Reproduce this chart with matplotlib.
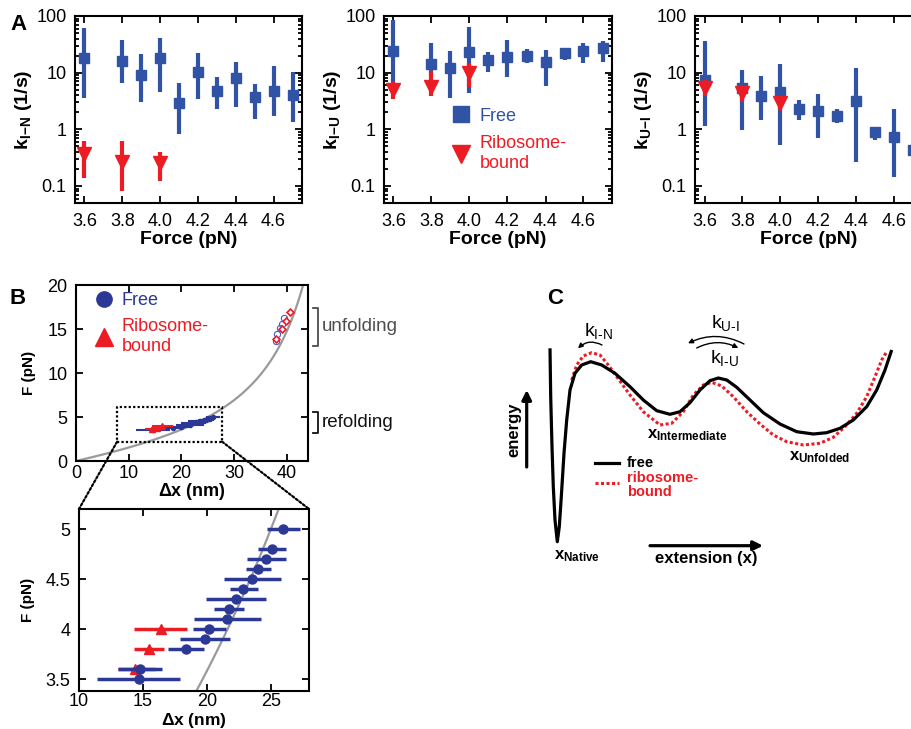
import numpy as np
import matplotlib
matplotlib.use("Agg")
import matplotlib.pyplot as plt
from matplotlib.patches import ConnectionPatch, FancyArrowPatch
from matplotlib.lines import Line2D

plt.rcParams['font.family'] = ['Liberation Sans', 'DejaVu Sans']
plt.rcParams['mathtext.fontset'] = 'custom'
plt.rcParams['mathtext.rm'] = 'Liberation Sans'
plt.rcParams['mathtext.bf'] = 'Liberation Sans:bold'
plt.rcParams['mathtext.it'] = 'Liberation Sans:italic'

# ---------------- DATA ----------------
# Panel A: rates vs force (center, lower bound, upper bound)
force_free = [3.6, 3.8, 3.9, 4.0, 4.1, 4.2, 4.3, 4.4, 4.5, 4.6, 4.7]
force_rib = [3.6, 3.8, 4.0]

kIN_free = [17.9, 16.3, 9.1, 18.4, 2.96, 10.4, 4.8, 8.2, 3.7, 4.8, 4.0]
kIN_free_lo = [3.5, 6.5, 3.0, 4.5, 0.83, 3.4, 2.3, 2.45, 1.5, 1.7, 1.33]
kIN_free_hi = [60.7, 37.7, 21.4, 40.4, 6.5, 22.5, 8.3, 15.6, 6.3, 13.1, 10.4]
kIN_rib = [0.37, 0.27, 0.25]
kIN_rib_lo = [0.14, 0.083, 0.124]
kIN_rib_hi = [0.63, 0.61, 0.40]

kIU_free = [24.1, 14.1, 11.9, 23.4, 16.7, 18.6, 20.0, 15.6, 22.0, 24.4, 26.9]
kIU_free_lo = [6.9, 9.0, 3.6, 4.4, 10.4, 8.3, 14.6, 5.8, 16.7, 14.6, 15.6]
kIU_free_hi = [85.0, 33.9, 24.6, 63.0, 23.4, 37.7, 25.9, 25.1, 26.9, 33.9, 36.7]
kIU_rib = [5.0, 5.6, 10.0]
kIU_rib_lo = [3.4, 3.9, 5.5]
kIU_rib_hi = [6.9, 10.7, 14.6]

kUI_free = [7.4, 5.3, 3.8, 4.6, 2.27, 2.1, 1.75, 3.2, 0.89, 0.73, 0.43]
kUI_free_lo = [1.15, 0.98, 1.47, 0.53, 1.47, 0.70, 1.28, 0.26, 0.65, 0.143, 0.33]
kUI_free_hi = [36.7, 11.2, 8.7, 14.2, 3.3, 4.2, 2.27, 11.9, 1.12, 2.27, 0.57]
kUI_rib = [5.3, 4.3, 2.9]
kUI_rib_lo = [3.8, 3.0, 2.2]
kUI_rib_hi = [7.4, 5.5, 3.8]

# Panel B: refolding forces and extension changes
refold_F_free = [5.0, 4.8, 4.7, 4.6, 4.5, 4.4, 4.3, 4.2, 4.1, 4.0, 3.9, 3.8, 3.6, 3.5]
refold_dx_free = [25.95, 25.13, 24.66, 24.03, 23.53, 22.84, 22.26, 21.71, 21.58, 20.18, 19.84, 18.34, 14.79, 14.66]
refold_dx_free_lo = [24.74, 24.03, 23.16, 23.05, 21.32, 21.79, 19.95, 20.58, 19.03, 18.89, 17.92, 16.97, 13.03, 11.39]
refold_dx_free_hi = [27.26, 26.21, 26.21, 25.03, 25.79, 23.97, 24.63, 22.95, 24.21, 21.53, 21.84, 19.76, 16.53, 17.89]
refold_F_rib = [4.0, 3.8, 3.6]
refold_dx_rib = [16.39, 15.45, 14.42]
refold_dx_rib_lo = [14.32, 14.32, 13.03]
refold_dx_rib_hi = [18.45, 16.66, 15.92]

unfold_F_free = [13.6, 14.4, 15.1, 15.6, 16.2]
unfold_dx_free = [37.9, 38.2, 38.7, 39.1, 39.5]
unfold_F_rib = [13.9, 15.0, 15.95, 16.9]
unfold_dx_rib = [37.95, 39.0, 39.85, 40.6]

# Worm-like-chain model curve parameters
WLC_kT = 4.1        # pN nm
WLC_P = 0.74        # persistence length, nm
WLC_L = 60.0        # contour length, nm

# Panel C: schematic energy landscapes (extension, energy) in arbitrary units
land_free_x = [30, 30.7, 32, 33.3, 35, 37.3, 39.3, 41.3, 44, 46.7, 50, 55, 61.7, 70.7, 81.7, 95,
               110, 123.3, 136.7, 150, 160, 170, 180, 190, 198.3, 206.7, 216.7, 230, 243.3, 260,
               276.7, 293.3, 306.7, 320, 333.3, 346.7, 356.7, 365, 371.7]
land_free_E = [231.7, 183.3, 133.3, 93.3, 60, 38.3, 53.3, 83.3, 126.7, 160, 190, 206.7, 215, 218.3,
               215, 206.7, 193.3, 180, 169.3, 165.7, 168.3, 177.3, 190, 199.3, 202, 200, 192.7, 180,
               167.3, 156, 148.3, 146, 147.3, 151.7, 160, 173.3, 190, 210, 230]
land_rib_x = [51.7, 56.7, 63.3, 71.7, 80, 88.3, 96.7, 110, 123.3, 140, 151.7, 163.3, 173.3, 183.3,
              191.7, 201.7, 213.3, 226.7, 240, 253.3, 266.7, 283.3, 300, 313.3, 325, 336.7, 346.7,
              355, 361.7, 366.7]
land_rib_E = [200, 215, 224, 227.3, 225, 215, 203.3, 185, 168.3, 155, 156.7, 168.3, 185, 195, 197.7,
              194, 183.3, 168.3, 156, 145, 138.3, 135, 136.7, 142.7, 153.3, 166.7, 183.3, 203.3, 220,
              228.3]

BLUE_A = '#3153a5'
BLUE_B = '#2b3896'
RED = '#ec1c24'
GRAY = '#9a9a9a'

W, H = 912, 729
fig = plt.figure(figsize=(W / 100, H / 100), dpi=100)


def pos(l, t, r, b):
    return [l / W, (H - b) / H, (r - l) / W, (b - t) / H]


TICK_FS = 13
LAB_FS = 14


def style_axes(ax, xpad=6):
    for s in ax.spines.values():
        s.set_linewidth(1.5)
    ax.tick_params(which='both', direction='in', top=True, right=True, labelsize=TICK_FS,
                   width=1.3, pad=6)
    ax.tick_params(axis='x', which='both', pad=xpad)
    ax.tick_params(which='major', length=5)
    ax.tick_params(which='minor', length=3)


def rate_panel(ax, kf, kf_lo, kf_hi, kr, kr_lo, kr_hi, ylab):
    kf = np.array(kf); kr = np.array(kr)
    ax.errorbar(force_free, kf, yerr=[kf - np.array(kf_lo), np.array(kf_hi) - kf], fmt='s',
                color=BLUE_A, ms=7.5, elinewidth=3, capsize=0, zorder=2, clip_on=True)
    ax.errorbar(force_rib, kr, yerr=[kr - np.array(kr_lo), np.array(kr_hi) - kr], fmt='v',
                color=RED, ms=9.5, elinewidth=3, capsize=0, zorder=3)
    ax.set_yscale('log')
    ax.set_xlim(3.55, 4.75)
    ax.set_ylim(0.05, 100)
    ax.set_yticks([0.1, 1, 10, 100])
    ax.set_yticklabels(['0.1', '1', '10', '100'])
    ax.set_xticks([3.6, 3.8, 4.0, 4.2, 4.4, 4.6])
    ax.set_xticklabels(['3.6', '3.8', '4.0', '4.2', '4.4', '4.6'])
    style_axes(ax, xpad=7)
    ax.set_xlabel('Force (pN)', fontsize=LAB_FS, fontweight='bold', labelpad=1)
    ax.set_ylabel(ylab, fontsize=LAB_FS, fontweight='bold', labelpad=2)


axA1 = fig.add_axes(pos(75, 16, 302, 203))
axA2 = fig.add_axes(pos(384, 16, 612, 203))
axA3 = fig.add_axes(pos(695, 16, 923, 203))
rate_panel(axA1, kIN_free, kIN_free_lo, kIN_free_hi, kIN_rib, kIN_rib_lo, kIN_rib_hi,
           r'$\mathbf{k}_{\mathbf{I\!-\!N}}$ (1/s)')
rate_panel(axA2, kIU_free, kIU_free_lo, kIU_free_hi, kIU_rib, kIU_rib_lo, kIU_rib_hi,
           r'$\mathbf{k}_{\mathbf{I\!-\!U}}$ (1/s)')
rate_panel(axA3, kUI_free, kUI_free_lo, kUI_free_hi, kUI_rib, kUI_rib_lo, kUI_rib_hi,
           r'$\mathbf{k}_{\mathbf{U\!-\!I}}$ (1/s)')

legA = axA2.legend([Line2D([], [], ls='none', marker='s', color=BLUE_A, ms=11),
                    Line2D([], [], ls='none', marker='v', color=RED, ms=13)],
                   ['Free', 'Ribosome-\nbound'], loc='upper left', bbox_to_anchor=(0.30, 0.51),
                   frameon=False, fontsize=13, handlelength=1.0, handletextpad=0.5,
                   labelspacing=0.6, borderpad=0, borderaxespad=0,
                   labelcolor=[BLUE_A, RED])

# ---------------- Panel B ----------------
def wlc_force(x):
    r = x / WLC_L
    return WLC_kT / WLC_P * (0.25 / (1 - r) ** 2 - 0.25 + r)


wlc_x = np.linspace(0, 45, 600)
wlc_F = wlc_force(wlc_x)

axBt = fig.add_axes(pos(76, 285, 308, 461))
axBt.plot(wlc_x, wlc_F, color=GRAY, lw=1.6, zorder=1)
rf = np.array(refold_dx_free)
axBt.errorbar(rf, refold_F_free, xerr=[rf - np.array(refold_dx_free_lo), np.array(refold_dx_free_hi) - rf],
              fmt='o', color=BLUE_B, ms=3, elinewidth=1.5, capsize=0, zorder=3)
rr = np.array(refold_dx_rib)
axBt.errorbar(rr, refold_F_rib, xerr=[rr - np.array(refold_dx_rib_lo), np.array(refold_dx_rib_hi) - rr],
              fmt='^', color=RED, ms=4, elinewidth=1.5, capsize=0, zorder=4)
axBt.plot(unfold_dx_free, unfold_F_free, 'o', mfc='none', mec='#4a5bc4', ms=4.5, mew=0.8, zorder=3)
axBt.errorbar(unfold_dx_rib, unfold_F_rib, xerr=0.5, fmt='D', mfc='white', mec=RED, ecolor=RED,
              ms=3.5, mew=1.2, elinewidth=1.0, capsize=0, zorder=4)
axBt.set_xlim(0, 44)
axBt.set_ylim(0, 20)
axBt.set_xticks([0, 10, 20, 30, 40])
axBt.set_yticks([0, 5, 10, 15, 20])
style_axes(axBt, xpad=3)
axBt.set_xlabel(r'$\mathbf{\Delta}$x (nm)', fontsize=13, fontweight='bold', labelpad=-1)
axBt.set_ylabel('F (pN)', fontsize=11, fontweight='bold', labelpad=8)

# zoom box
box_x = [7.8, 27.7]
box_F = [2.2, 6.1]
axBt.plot([box_x[0], box_x[1], box_x[1], box_x[0], box_x[0]],
          [box_F[0], box_F[0], box_F[1], box_F[1], box_F[0]],
          color='black', ls=(0, (1, 1)), lw=1.6, zorder=5)

legB = axBt.legend([Line2D([], [], ls='none', marker='o', color=BLUE_B, ms=11),
                    Line2D([], [], ls='none', marker='^', color=RED, ms=13)],
                   ['Free', 'Ribosome-\nbound'], loc='upper left', bbox_to_anchor=(0.08, 0.96),
                   frameon=False, fontsize=13, handlelength=1.0, handletextpad=0.5,
                   labelspacing=0.5, borderpad=0, borderaxespad=0,
                   labelcolor=[BLUE_B, RED])

# brackets
def bracket(ax, F0, F1, label, color):
    xb, xt = 45.9, 45.0
    ax.plot([xt, xb, xb, xt], [F1, F1, F0, F0], color=color, lw=1.3, clip_on=False)
    ax.text(46.6, (F0 + F1) / 2, label, color=color, fontsize=13.5, va='center', ha='left',
            clip_on=False)


bracket(axBt, 13.1, 17.4, 'unfolding', '#4d4d4d')
bracket(axBt, 3.2, 5.6, 'refolding', '#111111')

axBb = fig.add_axes(pos(79, 509, 309, 691))
axBb.plot(wlc_x, wlc_F, color=GRAY, lw=1.6, zorder=1)
axBb.errorbar(rf, refold_F_free, xerr=[rf - np.array(refold_dx_free_lo), np.array(refold_dx_free_hi) - rf],
              fmt='o', color=BLUE_B, ms=6.5, elinewidth=2.5, capsize=0, zorder=3)
axBb.errorbar(rr, refold_F_rib, xerr=[rr - np.array(refold_dx_rib_lo), np.array(refold_dx_rib_hi) - rr],
              fmt='^', color=RED, ms=7, elinewidth=2.5, capsize=0, zorder=2)
axBb.set_xlim(10, 28)
axBb.set_ylim(3.38, 5.2)
axBb.set_xticks([10, 15, 20, 25])
axBb.set_yticks([3.5, 4, 4.5, 5])
axBb.set_yticklabels(['3.5', '4', '4.5', '5'])
style_axes(axBb, xpad=1.5)
axBb.set_xlabel(r'$\mathbf{\Delta}$x (nm)', fontsize=12.5, fontweight='bold', labelpad=0.5)
axBb.set_ylabel('F (pN)', fontsize=11, fontweight='bold', labelpad=8)

for (xa, xb_) in [((box_x[0], box_F[0]), (0, 1)), ((box_x[1], box_F[0]), (1, 1))]:
    con = ConnectionPatch(xyA=xa, coordsA=axBt.transData, xyB=xb_, coordsB=axBb.transAxes,
                          color='black', ls=(0, (1, 1)), lw=1.6)
    fig.add_artist(con)

# ---------------- Panel C ----------------
axC = fig.add_axes(pos(520, 280, 912, 580))
axC.set_xlim(0, 392)
axC.set_ylim(0, 300)
axC.axis('off')
axC.plot(land_free_x, land_free_E, color='black', lw=2.3, solid_capstyle='butt', zorder=3)
axC.plot(land_rib_x, land_rib_E, color=RED, lw=2.2, ls=(0, (1, 0.8)), zorder=2)

# legend
axC.plot([75, 99], [116.7, 116.7], color='black', lw=2.3)
axC.plot([75, 99], [96.7, 96.7], color=RED, lw=2.2, ls=(0, (1, 0.8)))
axC.text(106.7, 116.7, 'free', fontsize=10.5, fontweight='bold', va='center', ha='left')
axC.text(106.7, 95, 'ribosome-\nbound', fontsize=10.5, fontweight='bold', va='center', ha='left',
         color=RED, linespacing=0.95)

# axes arrows
axC.annotate('', xy=(6.7, 190), xytext=(6.7, 113),
             arrowprops=dict(arrowstyle='-|>', lw=2.3, color='black', mutation_scale=14,
                             shrinkA=0, shrinkB=0), annotation_clip=False)
axC.text(-6, 150, 'energy', rotation=90, fontsize=12, fontweight='bold', va='center', ha='center')
axC.annotate('', xy=(243, 34.3), xytext=(130, 34.3),
             arrowprops=dict(arrowstyle='-|>', lw=2.3, color='black', mutation_scale=14,
                             shrinkA=0, shrinkB=0), annotation_clip=False)
axC.text(186.7, 21.5, 'extension (x)', fontsize=12, fontweight='bold', va='center', ha='center')

# rate labels & curved arrows
axC.text(78.3, 249, r'$\mathrm{k}_{\mathrm{I\text{-}N}}$', fontsize=14, ha='center', va='center')
axC.text(205, 257, r'$\mathrm{k}_{\mathrm{U\text{-}I}}$', fontsize=14, ha='center', va='center')
axC.text(205, 222, r'$\mathrm{k}_{\mathrm{I\text{-}U}}$', fontsize=14, ha='center', va='center')
for (a, b, rad) in [((82, 235), (58, 231.7), 0.35), ((224, 236), (168, 236.7), 0.25),
                    ((176.7, 232), (218.3, 232), -0.25)]:
    axC.add_patch(FancyArrowPatch(a, b, connectionstyle=f'arc3,rad={rad}', arrowstyle='-|>',
                                  mutation_scale=7, lw=1.0, color='black', shrinkA=0, shrinkB=0))

axC.text(166.7, 145, r'$\mathbf{x}_{\mathbf{Intermediate}}$', fontsize=12, ha='center', va='center')
axC.text(300, 123, r'$\mathbf{x}_{\mathbf{Unfolded}}$', fontsize=12, ha='center', va='center')
axC.text(56.7, 24, r'$\mathbf{x}_{\mathbf{Native}}$', fontsize=12, ha='center', va='center')

# panel letters
for lab, (px, py) in {'A': (19, 25), 'B': (18, 299), 'C': (555, 299)}.items():
    fig.text(px / W, 1 - py / H, lab, fontsize=16, fontweight='bold', ha='center', va='center')

fig.savefig('out.png', dpi=100)
